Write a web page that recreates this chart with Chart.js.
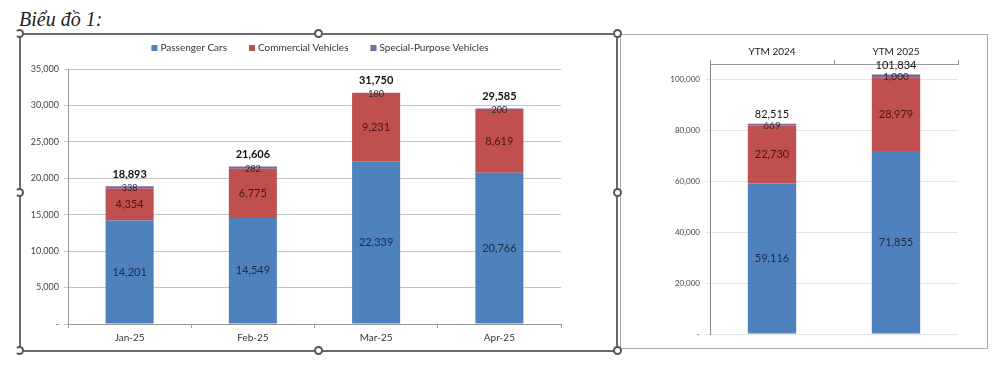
<!DOCTYPE html>
<html>
<head>
<meta charset="utf-8">
<script src="https://cdn.jsdelivr.net/npm/chart.js@4.4.1/dist/chart.umd.min.js"></script>
<style>
body{margin:0;background:#fff;width:1000px;height:366px;overflow:hidden;position:relative;font-family:Lato,"Noto Sans",sans-serif}
#title{position:absolute;left:19px;top:8px;font:italic 20px "Liberation Serif",serif;color:#222}
.frame{position:absolute;box-sizing:border-box}
#f1{left:19px;top:33px;width:599px;height:319px;border:2px solid #6a6a6a}
#f2{left:620px;top:34px;width:368px;height:315px;border:1px solid #aaa}
.h{position:absolute;width:9px;height:9px;border:2px solid #555;border-radius:50%;background:#fff;box-sizing:border-box}
#c1{position:absolute;left:22px;top:36px}
#c2{position:absolute;left:621px;top:35px}
</style>
</head>
<body>
<div id="title">Biểu đồ 1:</div>
<div class="frame" id="f2"></div>
<div class="frame" id="f1"></div>
<div class="h" style="left:314px;top:29px"></div>
<div class="h" style="left:613px;top:29px"></div>
<div class="h" style="left:613px;top:188px"></div>
<div class="h" style="left:613px;top:346px"></div>
<div class="h" style="left:314px;top:346px"></div>
<div class="h" style="left:15px;top:188px;border-left-color:transparent"></div>
<div class="h" style="left:15px;top:346px;border-left-color:transparent"></div>
<div class="h" style="left:15px;top:29px;border-left-color:transparent"></div>
<canvas id="c1" width="593" height="313"></canvas>
<canvas id="c2" width="366" height="313"></canvas>
<script>
// monthly data
var months = ['Jan-25', 'Feb-25', 'Mar-25', 'Apr-25'];
var passenger = [14201, 14549, 22339, 20766];
var commercial = [4354, 6775, 9231, 8619];
var special = [338, 282, 180, 200];
var totals = [18893, 21606, 31750, 29585];
// year to month
var ytmLabels = ['YTM 2024', 'YTM 2025'];
var ytmPassenger = [59116, 71855];
var ytmCommercial = [22730, 28979];
var ytmSpecial = [669, 1000];
var ytmTotals = [82515, 101834];
var ytmTicks = [0, 20000, 40000, 60000, 80000, 100000];

var seriesNames = ['Passenger Cars', 'Commercial Vehicles', 'Special-Purpose Vehicles'];
var colors = ['#4F81BD', '#C0504D', '#8064A2'];
var labelColors = ['#1c2a4a', '#4a1414', '#2a2a2a'];
var FONT = 'Lato, "Noto Sans", sans-serif';

var fmt = function(v){ return v.toLocaleString('en-US'); };

var makeSets = function(a, b, c){
    return [a, b, c].map(function(d, i){
        return {label: seriesNames[i], data: d, backgroundColor: colors[i],
            barPercentage: 0.39, categoryPercentage: 1, borderWidth: 0};
    });
};

// value labels + totals
var labelPlugin = {
    id: 'vals',
    afterDatasetsDraw: function(chart, args, opts){
        var ctx = chart.ctx;
        ctx.save();
        ctx.textAlign = 'center';
        ctx.textBaseline = 'middle';
        chart.data.datasets.forEach(function(ds, di){
            var meta = chart.getDatasetMeta(di);
            meta.data.forEach(function(bar, i){
                ctx.font = (di == 2 ? opts.smallSize : opts.size) + 'px ' + FONT;
                ctx.fillStyle = labelColors[di];
                ctx.fillText(fmt(ds.data[i]), bar.x, (bar.y + bar.base) / 2 + (di == 2 ? 1 : 0));
            });
        });
        var top = chart.getDatasetMeta(2);
        top.data.forEach(function(bar, i){
            ctx.font = opts.totalWeight + ' ' + opts.size + 'px ' + FONT;
            ctx.fillStyle = '#111';
            ctx.fillText(fmt(opts.totals[i]), bar.x, bar.y - opts.totalGap);
        });
        ctx.restore();
    }
};

// legend drawn by hand so it sits where the picture has it
var legendPlugin = {
    id: 'leg',
    afterDraw: function(chart, args, opts){
        if (!opts.show) return;
        var ctx = chart.ctx;
        ctx.save();
        ctx.font = '10px ' + FONT;
        ctx.textBaseline = 'middle';
        var gap = 22, box = 6, w = 0;
        var widths = seriesNames.map(function(n){ return ctx.measureText(n).width; });
        widths.forEach(function(x){ w += box + 3 + x; });
        w += gap * 2;
        var x = opts.cx - w / 2;
        seriesNames.forEach(function(n, i){
            ctx.fillStyle = colors[i];
            ctx.fillRect(x, opts.cy - 3, box, box);
            ctx.fillStyle = '#333';
            ctx.fillText(n, x + box + 3, opts.cy);
            x += box + 3 + widths[i] + gap;
        });
        ctx.restore();
    }
};

new Chart(document.getElementById('c1').getContext('2d'), {
    type: 'bar',
    data: {labels: months, datasets: makeSets(passenger, commercial, special)},
    plugins: [labelPlugin, legendPlugin],
    options: {
        responsive: false, animation: false,
        layout: {padding: {left: 0, right: 54, top: 33, bottom: 0}},
        plugins: {
            legend: {display: false}, tooltip: {enabled: false},
            vals: {totals: totals, size: 11, smallSize: 9, totalWeight: 'bold', totalGap: 12},
            leg: {show: true, cx: 298, cy: 12}
        },
        scales: {
            x: {stacked: true,
                afterFit: function(s){ s.height = 25; },
                grid: {offset: true, drawOnChartArea: false, tickLength: 4, color: '#999'},
                border: {color: '#999'},
                ticks: {font: {family: FONT, size: 10}, color: '#333', padding: 4}},
            y: {stacked: true, min: 0, max: 35000,
                afterFit: function(s){ s.width = 46; },
                grid: {color: '#c4c4c4', tickLength: 4},
                border: {color: '#999'},
                ticks: {stepSize: 5000, padding: 5, font: {family: FONT, size: 9}, color: '#444',
                    callback: function(v){ return v == 0 ? '-' : fmt(v); }}}
        }
    }
});

new Chart(document.getElementById('c2').getContext('2d'), {
    type: 'bar',
    data: {labels: ytmLabels, datasets: makeSets(ytmPassenger, ytmCommercial, ytmSpecial)},
    plugins: [labelPlugin],
    options: {
        responsive: false, animation: false,
        layout: {padding: {left: 0, right: 29, top: 0, bottom: 14}},
        plugins: {
            legend: {display: false}, tooltip: {enabled: false},
            vals: {totals: ytmTotals, size: 11, smallSize: 10, totalWeight: 'normal', totalGap: 9}
        },
        scales: {
            x: {stacked: true, position: 'top',
                afterFit: function(s){ s.height = 29; },
                grid: {offset: true, drawOnChartArea: false, tickLength: 4, color: '#999'},
                border: {color: '#999'},
                ticks: {font: {family: FONT, size: 10}, color: '#222', padding: 2}},
            y: {stacked: true, min: 0, max: 106000,
                afterFit: function(s){ s.width = 89; },
                afterBuildTicks: function(s){
                    s.ticks = ytmTicks.map(function(v){ return {value: v}; });
                },
                grid: {color: '#e4e4e4', tickLength: 4},
                border: {color: '#888'},
                ticks: {padding: 6, font: {family: FONT, size: 8}, color: '#444',
                    callback: function(v){ return v == 0 ? '-' : fmt(v); }}}
        }
    }
});
</script>
</body>
</html>
